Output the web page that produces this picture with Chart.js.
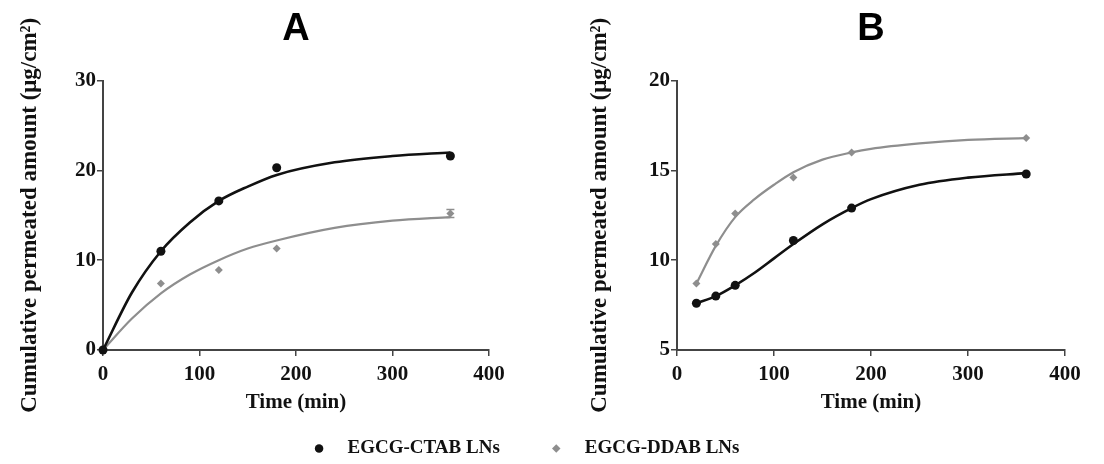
<!DOCTYPE html>
<html>
<head>
<meta charset="utf-8">
<script src="https://cdn.jsdelivr.net/npm/chart.js@4.4.1/dist/chart.umd.min.js"></script>
<style>
  html, body { margin: 0; padding: 0; background: #fff; overflow: hidden; }
  #wrap { position: relative; width: 1104px; height: 464px; overflow: hidden; background: #fff; }
  .box { position: absolute; }
</style>
</head>
<body>
<div id="wrap">
  <div class="box" style="left:0;top:0;width:552px;height:420px"><canvas id="panel-a"></canvas></div>
  <div class="box" style="left:552px;top:0;width:552px;height:420px"><canvas id="panel-b"></canvas></div>
  <div class="box" style="left:0;top:392px;width:1049px;height:130px"><canvas id="legend"></canvas></div>
</div>
<script>
// Panel A - measured points
const timeA = [0, 60, 120, 180, 360];
const ctabA = [0, 11.0, 16.6, 20.3, 21.6];
const ddabA = [0, 7.4, 8.9, 11.3, 15.2];
const ddabErrA = [0, 0, 0, 0, 0.45];
// Panel A - fitted curves
const fitTimeA = [0, 30, 60, 90, 120, 150, 180, 240, 300, 360];
const ctabFitA = [0, 6.4, 11.0, 14.2, 16.6, 18.2, 19.5, 20.9, 21.6, 22.0];
const ddabFitA = [0, 3.5, 6.3, 8.4, 10.0, 11.3, 12.2, 13.6, 14.4, 14.8];

// Panel B - measured points
const timeB = [20, 40, 60, 120, 180, 360];
const ctabB = [7.6, 8.0, 8.6, 11.1, 12.9, 14.8];
const ddabB = [8.7, 10.9, 12.6, 14.6, 16.0, 16.8];
// Panel B - fitted curves
const fitTimeB = [20, 40, 60, 80, 100, 120, 150, 180, 200, 250, 300, 360];
const ctabFitB = [7.6, 8.0, 8.6, 9.3, 10.1, 10.9, 12.0, 12.9, 13.4, 14.2, 14.6, 14.85];
const ddabFitB = [8.7, 10.8, 12.4, 13.4, 14.2, 14.9, 15.6, 16.0, 16.2, 16.5, 16.7, 16.8];

const seriesNames = ['EGCG-CTAB LNs', 'EGCG-DDAB LNs'];
const xTicks = [0, 100, 200, 300, 400];

const BLACK = '#111111';
const GREY = '#8e8e8e';
const SERIF = 'Liberation Serif';

function pts(xs, ys) {
    return xs.map((x, i) => ({ x: x, y: ys[i] }));
}

// small error bars on points that carry an "errors" list
const errorBars = {
    id: 'errorBars',
    afterDatasetsDraw(chart) {
        const ctx = chart.ctx;
        const xs = chart.scales.x, ys = chart.scales.y;
        chart.data.datasets.forEach(ds => {
            if (!ds.errors) return;
            ctx.save();
            ctx.strokeStyle = ds.borderColor;
            ctx.lineWidth = 1.5;
            ds.data.forEach((p, j) => {
                const e = ds.errors[j];
                if (!e) return;
                const px = xs.getPixelForValue(p.x);
                const top = ys.getPixelForValue(p.y + e);
                const bot = ys.getPixelForValue(p.y - e);
                ctx.beginPath();
                ctx.moveTo(px, top); ctx.lineTo(px, bot);
                ctx.moveTo(px - 4, top); ctx.lineTo(px + 4, top);
                ctx.moveTo(px - 4, bot); ctx.lineTo(px + 4, bot);
                ctx.stroke();
            });
            ctx.restore();
        });
    }
};

function makePanel(id, cfg) {
    return new Chart(document.getElementById(id), {
        type: 'scatter',
        data: {
            datasets: [
                {
                    label: seriesNames[0],
                    data: pts(cfg.time, cfg.ctab),
                    showLine: false,
                    pointStyle: 'circle',
                    pointRadius: 4.5,
                    backgroundColor: BLACK,
                    borderColor: BLACK,
                    borderWidth: 0,
                    clip: false
                },
                {
                    label: seriesNames[1],
                    data: pts(cfg.time, cfg.ddab),
                    errors: cfg.ddabErr,
                    showLine: false,
                    pointStyle: 'rectRot',
                    pointRadius: 4,
                    backgroundColor: GREY,
                    borderColor: GREY,
                    borderWidth: 0,
                    clip: false
                },
                {
                    label: 'fit CTAB',
                    data: pts(cfg.fitTime, cfg.ctabFit),
                    showLine: true,
                    pointRadius: 0,
                    borderColor: BLACK,
                    borderWidth: 2.6,
                    cubicInterpolationMode: 'monotone',
                    clip: false
                },
                {
                    label: 'fit DDAB',
                    data: pts(cfg.fitTime, cfg.ddabFit),
                    showLine: true,
                    pointRadius: 0,
                    borderColor: GREY,
                    borderWidth: 2.2,
                    cubicInterpolationMode: 'monotone',
                    clip: false
                }
            ]
        },
        options: {
            responsive: true,
            maintainAspectRatio: false,
            animation: false,
            layout: { padding: { left: cfg.padLeft, right: cfg.padRight, top: 0, bottom: 0 } },
            plugins: {
                legend: { display: false },
                tooltip: { enabled: false },
                title: {
                    display: true,
                    text: cfg.title,
                    fullSize: false,
                    color: '#000',
                    font: { family: 'Liberation Sans', weight: 'bold', size: 38 },
                    padding: { top: 7, bottom: 28 }
                }
            },
            scales: {
                x: {
                    type: 'linear',
                    min: 0,
                    max: 400,
                    afterBuildTicks: s => { s.ticks = xTicks.map(v => ({ value: v })); },
                    afterFit: s => { s.height = 70; },
                    grid: { drawOnChartArea: false, drawTicks: true, tickLength: 6, color: '#444', lineWidth: 1.5 },
                    border: { display: true, color: '#444', width: 2 },
                    ticks: { color: BLACK, padding: 6, font: { family: SERIF, weight: 'bold', size: 21 } },
                    title: {
                        display: true,
                        text: 'Time (min)',
                        color: BLACK,
                        font: { family: SERIF, weight: 'bold', size: 21 },
                        padding: { top: 0, bottom: 5 }
                    }
                },
                y: {
                    type: 'linear',
                    min: cfg.yMin,
                    max: cfg.yMax,
                    afterBuildTicks: s => { s.ticks = cfg.yTicks.map(v => ({ value: v })); },
                    afterFit: s => { s.width = cfg.yWidth; },
                    grid: { drawOnChartArea: false, drawTicks: true, tickLength: 6, color: '#444', lineWidth: 1.5 },
                    border: { display: true, color: '#444', width: 2 },
                    ticks: { color: BLACK, padding: 1, font: { family: SERIF, weight: 'bold', size: 21 } },
                    title: {
                        display: true,
                        text: 'Cumulative permeated amount (μg/cm²)',
                        color: BLACK,
                        font: { family: SERIF, weight: 'bold', size: 23 },
                        padding: { top: 0, bottom: 0 }
                    }
                }
            }
        },
        plugins: [errorBars]
    });
}

makePanel('panel-a', {
    title: 'A',
    time: timeA, ctab: ctabA, ddab: ddabA, ddabErr: ddabErrA,
    fitTime: fitTimeA, ctabFit: ctabFitA, ddabFit: ddabFitA,
    yMin: 0, yMax: 30, yTicks: [0, 10, 20, 30],
    padLeft: 16, padRight: 63, yWidth: 87
});

makePanel('panel-b', {
    title: 'B',
    time: timeB, ctab: ctabB, ddab: ddabB, ddabErr: null,
    fitTime: fitTimeB, ctabFit: ctabFitB, ddabFit: ddabFitB,
    yMin: 5, yMax: 20, yTicks: [5, 10, 15, 20],
    padLeft: 34, padRight: 39, yWidth: 91
});

// shared legend under both panels
new Chart(document.getElementById('legend'), {
    type: 'scatter',
    data: {
        datasets: [
            { label: '  ' + seriesNames[0], data: [], pointStyle: 'circle', backgroundColor: BLACK, borderColor: BLACK, borderWidth: 0 },
            { label: '  ' + seriesNames[1], data: [], pointStyle: 'rectRot', backgroundColor: GREY, borderColor: GREY, borderWidth: 0 }
        ]
    },
    options: {
        responsive: true,
        maintainAspectRatio: false,
        animation: false,
        layout: { padding: 0 },
        scales: { x: { display: false }, y: { display: false } },
        plugins: {
            tooltip: { enabled: false },
            legend: {
                display: true,
                position: 'top',
                maxHeight: 200,
                labels: {
                    usePointStyle: true,
                    boxWidth: 19,
                    boxHeight: 6,
                    padding: 47,
                    color: BLACK,
                    font: { family: SERIF, weight: 'bold', size: 19 }
                }
            }
        }
    }
});
</script>
</body>
</html>
